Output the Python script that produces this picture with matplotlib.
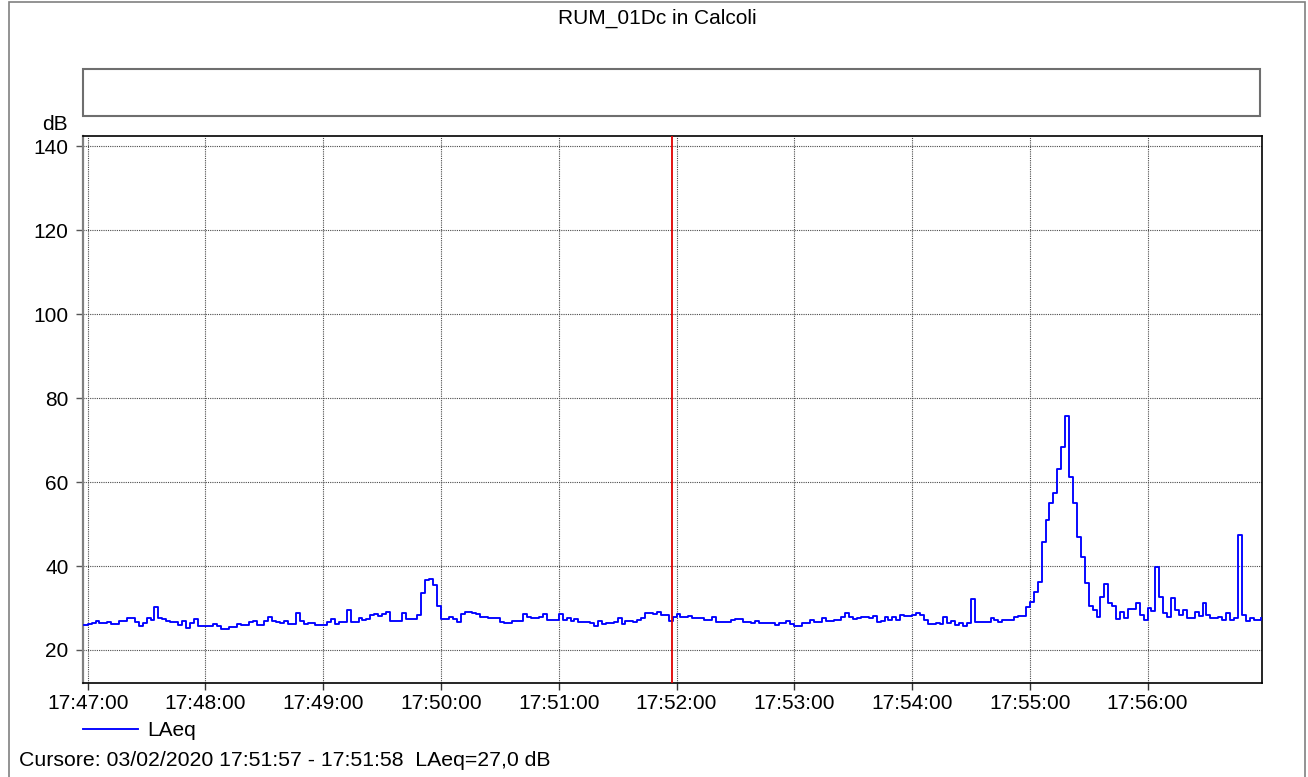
import matplotlib
matplotlib.use('Agg')
import matplotlib.pyplot as plt
import matplotlib.dates as mdates
from matplotlib.patches import Rectangle
import pandas as pd

plt.rcParams['font.family'] = ['Liberation Sans', 'DejaVu Sans']

# ---------------- data ----------------
title = "RUM_01Dc in Calcoli"
series_name = "LAeq"
y_unit = "dB"
cursor_text = "Cursore: 03/02/2020 17:51:57 - 17:51:58  LAeq=27,0 dB"
start_time = "2020-02-03 17:46:58"
sample_step = "2s"
cursor_time = "2020-02-03 17:51:57.5"
x_start = "2020-02-03 17:46:57.6"
x_end = "2020-02-03 17:56:58.3"
y_ticks = [20, 40, 60, 80, 100, 120, 140]

laeq = [
    26.0, 26.3, 26.4, 26.9, 26.5, 26.4, 26.7, 26.2, 26.1, 26.9,
    26.9, 27.7, 27.6, 26.7, 25.6, 26.4, 27.5, 27.2, 30.2, 27.7,
    27.3, 26.8, 26.6, 26.6, 26.0, 27.0, 25.3, 26.4, 27.3, 25.8,
    25.7, 25.7, 25.8, 26.2, 25.7, 25.0, 24.9, 25.5, 25.5, 26.2,
    25.9, 25.9, 26.6, 26.8, 25.9, 26.0, 26.8, 27.8, 26.9, 26.6,
    26.5, 26.8, 26.2, 26.2, 28.8, 26.8, 26.3, 26.5, 26.5, 25.9,
    26.0, 26.0, 26.7, 27.3, 26.3, 26.6, 26.7, 29.5, 26.6, 26.7,
    27.5, 27.2, 27.3, 28.3, 28.6, 28.2, 28.5, 29.1, 26.8, 26.8,
    27.0, 28.7, 27.4, 27.4, 27.4, 28.4, 33.5, 36.7, 36.9, 35.5,
    30.5, 27.3, 27.3, 27.8, 27.3, 26.7, 28.6, 29.0, 29.0, 28.9,
    28.5, 27.9, 27.9, 27.6, 27.6, 27.6, 26.7, 26.4, 26.4, 27.0,
    26.9, 26.9, 28.6, 27.9, 27.5, 27.5, 27.9, 28.6, 27.1, 27.1,
    27.1, 28.5, 27.1, 27.5, 27.0, 27.3, 26.7, 26.6, 26.6, 26.4,
    25.7, 26.9, 26.1, 26.4, 26.4, 26.7, 27.5, 26.2, 27.0, 27.0,
    26.7, 27.1, 27.5, 28.7, 28.7, 28.5, 29.0, 28.3, 28.3, 27.0,
    27.9, 28.5, 27.9, 27.9, 28.2, 27.5, 27.5, 27.5, 27.1, 27.1,
    27.9, 26.7, 26.6, 26.6, 26.6, 27.1, 27.3, 27.3, 26.7, 26.7,
    26.5, 27.0, 26.5, 26.5, 26.4, 26.4, 26.0, 26.4, 26.4, 27.0,
    26.2, 25.7, 25.7, 26.4, 26.4, 27.1, 26.7, 26.7, 27.5, 27.0,
    27.0, 27.1, 27.1, 27.8, 28.9, 27.8, 27.3, 27.5, 27.8, 27.8,
    27.5, 28.2, 26.7, 26.9, 27.8, 27.1, 27.8, 27.1, 28.3, 28.1,
    28.1, 28.3, 28.7, 28.3, 27.1, 26.1, 26.1, 26.5, 26.1, 27.9,
    26.5, 26.9, 26.0, 26.4, 25.7, 26.4, 32.1, 26.7, 26.7, 26.7,
    26.7, 27.6, 27.1, 26.7, 27.1, 27.1, 27.1, 27.8, 28.1, 28.1,
    30.3, 31.5, 33.7, 36.3, 45.8, 51.0, 54.9, 57.5, 63.0, 68.4,
    75.7, 61.3, 55.0, 47.0, 42.2, 36.0, 30.5, 29.5, 27.9, 32.7,
    35.7, 31.1, 30.5, 27.3, 29.1, 27.5, 29.7, 29.7, 31.1, 28.3,
    27.1, 29.9, 29.3, 39.8, 32.7, 28.9, 27.9, 32.5, 29.5, 28.3,
    29.5, 27.5, 27.5, 29.1, 28.1, 31.1, 28.3, 27.5, 27.5, 27.9,
    27.1, 28.7, 27.1, 27.7, 47.4, 28.3, 27.0, 27.5, 27.1, 27.1,
    27.7,
]

# ---------------- layout ----------------
W, H = 1308, 777
fig = plt.figure(figsize=(W / 100, H / 100), dpi=100)


def fx(px):
    return px / W


def fy(py):
    return 1 - py / H


FS = 15

# outer frame
fig.add_artist(Rectangle((fx(9), -0.01), fx(1305) - fx(9), fy(2) + 0.01,
                         transform=fig.transFigure, fill=False,
                         edgecolor='#808080', lw=1.2))
# empty header box
fig.add_artist(Rectangle((fx(83), fy(116)), fx(1260) - fx(83), fy(69) - fy(116),
                         transform=fig.transFigure, fill=False,
                         edgecolor='#6e6e6e', lw=1.5))

fig.text(fx(657.5), fy(18), title, ha='center', va='center', fontsize=FS)
fig.text(fx(55), fy(125), y_unit, ha='center', va='center', fontsize=FS)

ax = fig.add_axes([fx(83), fy(683), fx(1262) - fx(83), fy(136) - fy(683)])

times = pd.date_range(start_time, periods=len(laeq), freq=sample_step)
line, = ax.plot(times, laeq, drawstyle='steps-post', color='#0000ff',
                lw=1.35, label=series_name, zorder=3)
ax.axvline(pd.Timestamp(cursor_time), color='#e00000', lw=1.3, zorder=4)

ax.set_xlim(pd.Timestamp(x_start), pd.Timestamp(x_end))
ax.set_ylim(12.14, 142.4)
ax.set_yticks(y_ticks)
ax.xaxis.set_major_locator(mdates.MinuteLocator())
ax.xaxis.set_major_formatter(mdates.DateFormatter('%H:%M:%S'))

ax.grid(True, color='#4a4a4a', linestyle=(0, (1, 1)), lw=0.8, zorder=1)
ax.set_axisbelow(True)

for side in ['top', 'right', 'bottom']:
    ax.spines[side].set_color('black')
    ax.spines[side].set_linewidth(1.2)
ax.spines['left'].set_color('#808080')
ax.spines['left'].set_linewidth(1.6)

ax.tick_params(axis='y', length=5, width=1, color='#555555', pad=5.5,
               labelsize=FS)
ax.tick_params(axis='x', length=5, width=1, color='#333333', pad=3,
               labelsize=FS)

fig.legend(handles=[line], loc='center left',
           bbox_to_anchor=(fx(83), fy(731)), frameon=False,
           borderpad=0, borderaxespad=0, handlelength=2.64,
           handletextpad=0.45, fontsize=FS)

fig.text(fx(19), fy(760), cursor_text, ha='left', va='center', fontsize=15.3)

fig.savefig('out.png', dpi=100)
